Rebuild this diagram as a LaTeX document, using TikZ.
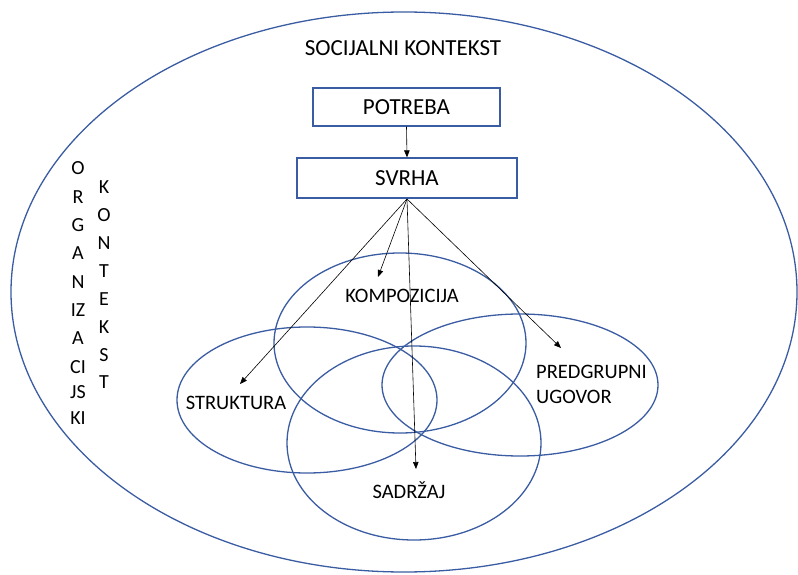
\documentclass[tikz,border=0pt]{standalone}
\usepackage{fontspec}
\setmainfont{Carlito}
\usetikzlibrary{arrows.meta}
\definecolor{eblue}{RGB}{58,92,162}
\tikzset{
  ell/.style={draw=eblue, line width=1.3pt},
  boxnode/.style={draw=eblue, line width=1.3pt, inner sep=0pt, font=\fontsize{23}{27}\selectfont},
  lab/.style={inner sep=0pt, text height=14.5pt, text depth=0pt, font=\fontsize{23}{27}\selectfont},
  inlab/.style={inner sep=0pt, text height=13pt, text depth=0pt, font=\fontsize{20.5}{25}\selectfont},
  vlet/.style={inner sep=0pt, text height=13pt, text depth=0pt, font=\fontsize{20}{24}\selectfont},
  arr/.style={draw=black, line width=0.6pt, -{Triangle[length=7pt,width=5.5pt]}}
}
\begin{document}
\begin{tikzpicture}[x=1pt,y=-1pt]
\useasboundingbox (0,0) rectangle (798,575);
% outer ellipse
\draw[ell] (404,292) ellipse [x radius=393, y radius=280];
% inner ellipses
\draw[ell] (400,343) ellipse [x radius=126, y radius=90];
\draw[ell] (307,400) ellipse [x radius=130, y radius=73];
\draw[ell] (520,385) ellipse [x radius=138, y radius=71];
\draw[ell] (414,443) ellipse [x radius=127, y radius=97];
% top texts and boxes
\node[lab] (soc) at (403,48) {SOCIJALNI KONTEKST};
\node[boxnode, minimum width=187pt, minimum height=38pt] (potreba) at (406.5,107) {POTREBA};
\node[boxnode, minimum width=220pt, minimum height=40pt] (svrha) at (407,178) {SVRHA};
% inner labels
\node[inlab] (komp) at (402,296) {KOMPOZICIJA};
\node[inlab] (strukt) at (236,403) {STRUKTURA};
\node[inlab] (sadr) at (409,492) {SADRŽAJ};
\node[inlab, anchor=west] (predg) at (536,372) {PREDGRUPNI};
\node[inlab, anchor=west] (ugov) at (536,397) {UGOVOR};
% vertical letters
\foreach \t/\y [count=\i] in {O/168,R/197,G/225,A/253,N/282,IZ/310,A/338,CI/367,JS/392,KI/418}
  \node[vlet] (org\i) at (78,\y) {\t};
\foreach \t/\y [count=\i] in {K/187,O/215,N/243,T/271,E/299,K/327,S/355,T/382}
  \node[vlet] (kon\i) at (104,\y) {\t};
% arrow endpoints
\coordinate (src) at (407,199);
\coordinate (eK) at (378,277);
\coordinate (eS) at (240,384);
\coordinate (eD) at (416,469);
\coordinate (eP) at (561,348);
\draw[arr] (potreba.south) -- (svrha.north);
\draw[arr] (src) -- (eK);
\draw[arr] (src) -- (eS);
\draw[arr] (src) -- (eD);
\draw[arr] (src) -- (eP);
\end{tikzpicture}
\end{document}
